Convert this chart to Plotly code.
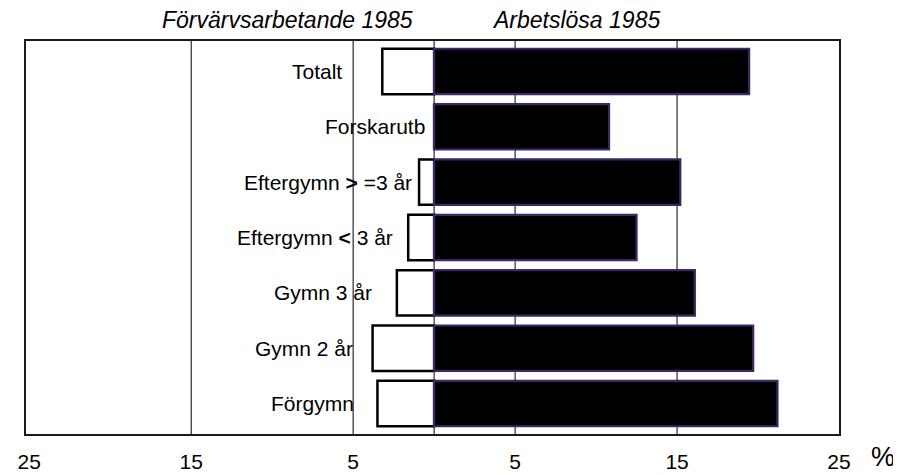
import plotly.graph_objects as go

# ---- data ----
CATEGORIES = ["Totalt", "Forskarutb", "Eftergymn >=3 år", "Eftergymn <3 år",
              "Gymn 3 år", "Gymn 2 år", "Förgymn"]
LABELS = ["Totalt", "Forskarutb", "Eftergymn <b>&gt;</b> =3 år",
          "Eftergymn <b>&lt;</b> 3 år", "Gymn 3 år", "Gymn 2 år", "Förgymn"]
EMPLOYED_1985 = [3.2, 0.0, 0.93, 1.6, 2.3, 3.8, 3.5]          # Förvärvsarbetande 1985, %
UNEMPLOYED_1985 = [19.45, 10.8, 15.2, 12.5, 16.1, 19.7, 21.2]  # Arbetslösa 1985, %
TICK_VALUES = [-25, -15, -5, 5, 15, 25]
TICK_TEXT = ["25", "15", "5", "5", "15", "25"]
GRID_VALUES = [-15, -5, 0, 5, 15]
LEFT_TITLE = "Förvärvsarbetande 1985"
RIGHT_TITLE = "Arbetslösa 1985"
UNIT = "%"

# ---- layout helpers (positions, not data) ----
LABEL_RIGHT_EDGE = [-5.55, -0.45, -1.25, -2.4, -3.7, -4.9, -4.8]

FONT = "Liberation Sans, Arial, Helvetica, sans-serif"

fig = go.Figure()
fig.add_trace(go.Bar(
    y=CATEGORIES, x=[-v for v in EMPLOYED_1985], orientation="h",
    width=0.82, marker=dict(color="white", line=dict(color="black", width=2.5)),
    name=LEFT_TITLE, hoverinfo="skip"))
fig.add_trace(go.Bar(
    y=CATEGORIES, x=UNEMPLOYED_1985, orientation="h",
    width=0.82, marker=dict(color="black", line=dict(color="#3d2766", width=2.2)),
    name=RIGHT_TITLE, hoverinfo="skip"))

for v in GRID_VALUES:
    fig.add_shape(type="line", xref="x", yref="paper", x0=v, x1=v, y0=0, y1=1,
                  line=dict(color="black", width=1), layer="below")

for cat, lab, xr in zip(CATEGORIES, LABELS, LABEL_RIGHT_EDGE):
    fig.add_annotation(x=xr, y=cat, xref="x", yref="y", text=lab, showarrow=False,
                       xanchor="right", yanchor="middle",
                       font=dict(family=FONT, size=21, color="black"))

fig.add_annotation(x=0.322, y=1.053, xref="paper", yref="paper",
                   text="<i>" + LEFT_TITLE + "</i>", showarrow=False,
                   xanchor="center", yanchor="middle",
                   font=dict(family=FONT, size=23, color="black"))
fig.add_annotation(x=0.677, y=1.053, xref="paper", yref="paper",
                   text="<i>" + RIGHT_TITLE + "</i>", showarrow=False,
                   xanchor="center", yanchor="middle",
                   font=dict(family=FONT, size=23, color="black"))
fig.add_annotation(x=1.054, y=-0.058, xref="paper", yref="paper",
                   text=UNIT, showarrow=False, xanchor="center", yanchor="middle",
                   font=dict(family=FONT, size=27, color="black"))

# the page body adds an 8 px offset, so the figure is 8 px smaller and shifted
fig.update_layout(
    width=893, height=467, template="none",
    margin=dict(l=18, r=62, t=33, b=41, pad=0),
    plot_bgcolor="white", paper_bgcolor="white",
    barmode="overlay", showlegend=False,
    font=dict(family=FONT, size=21, color="black"),
)
fig.update_xaxes(range=[-25.2, 25.0], tickvals=TICK_VALUES, ticktext=TICK_TEXT,
                 showgrid=False, zeroline=False, showline=True, mirror=True,
                 linecolor="#1a1a1a", linewidth=2, ticks="", ticklabelstandoff=8,
                 tickfont=dict(family=FONT, size=21, color="black"), automargin=False)
fig.update_yaxes(type="category", categoryorder="array", categoryarray=CATEGORIES,
                 range=[6.55, -0.55], showticklabels=False, showgrid=False,
                 zeroline=False, showline=True, mirror=True, linecolor="#1a1a1a",
                 linewidth=2, ticks="", automargin=False)

fig.write_html("out.html")
